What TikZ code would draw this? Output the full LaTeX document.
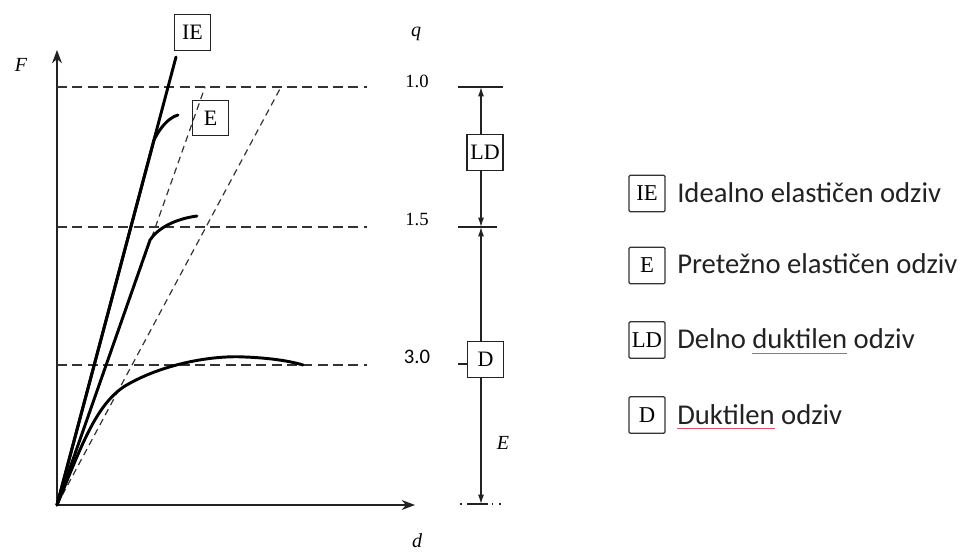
\documentclass[tikz,border=0pt]{standalone}
\usepackage{fontspec}
\setmainfont{Liberation Serif}
\newfontfamily\legfont{Carlito}
\usetikzlibrary{arrows.meta}
\definecolor{ink}{HTML}{222222}
\definecolor{dashc}{HTML}{333333}
\definecolor{spellred}{HTML}{E0506A}
\newcommand\spellul[1]{\setbox0\hbox{#1}\rlap{\raisebox{-3.4pt}{\textcolor{spellred}{\rule{\wd0}{0.75pt}}}}#1}
\begin{document}
\begin{tikzpicture}[x=0.75pt,y=-0.75pt,
  curve/.style={line width=2.2pt, black, line cap=round},
  axis/.style={line width=1.1pt, ink},
  level/.style={line width=1.4pt, dashc, dash pattern=on 7.5pt off 4pt},
  diag/.style={line width=0.9pt, dashc, dash pattern=on 5pt off 3.5pt},
  tag/.style={draw=ink, line width=0.9pt, inner sep=0pt, minimum width=27pt, minimum height=26.5pt, font=\fontsize{16.5}{16.5}\selectfont},
  legtag/.style={tag, draw=dashc, rounded corners=1pt, minimum width=27pt, minimum height=27.5pt, font=\fontsize{17}{17}\selectfont},
  lab/.style={font=\fontsize{15}{15}\selectfont\itshape, inner sep=0pt},
  num/.style={font=\fontsize{14}{14}\selectfont, inner sep=0pt},
  sansnum/.style={font=\legfont\fontsize{15.5}{15.5}\selectfont, inner sep=0pt},
  legtext/.style={font=\legfont\fontsize{21.5}{22}\selectfont, anchor=base west, inner sep=0pt, text=ink},
  scl/.style={line width=0.9pt, ink},
  tip/.style={-{Latex[length=7pt,width=4.5pt]}},
  axtip/.style={-{Stealth[length=10pt,width=7.5pt]}}
]
\useasboundingbox (0,0) rectangle (971,552);
% axes
\coordinate (O) at (57,505);
\coordinate (Ytop) at (57,50);
\coordinate (Xend) at (415,505);
\draw[axis,axtip] (O) -- (Ytop);
\draw[axis,axtip] (O) -- (Xend);
% level lines
\draw[level] (57,87) -- (367,87);
\draw[level] (57,227) -- (367,227);
\draw[level] (57,365) -- (367,365);
% diagonal reference lines
\coordinate (D1) at (205,87);
\coordinate (D2) at (281,87);
\draw[diag] (O) -- (D1);
\draw[diag] (O) -- (D2);
% response curves
\draw[curve] (O) -- (176,57);
\draw[curve] (O) -- (154,140) .. controls (160,128) and (168,118) .. (178,115);
\draw[curve] (O) -- (150,240) .. controls (158,228) and (175,219) .. (197,216);
\draw[curve] (O) .. controls (80,450) and (95,405) .. (125,386)
  .. controls (160,365) and (210,355) .. (245,357)
  .. controls (270,358) and (290,361) .. (303,365);
% tags on curves
\node[tag] (IEb) at (192.5,32.5) {IE};
\node[tag] (Eb) at (210.5,118) {E};
% labels
\node[lab] (F) at (21,65) {F};
\node[lab] (q) at (416,34) {q};
\node[lab, anchor=base] (d) at (417,547) {d};
\node[num] (n10) at (417,81) {1.0};
\node[num] (n15) at (417,219) {1.5};
\node[sansnum] (n30) at (417,357) {3.0};
% right scale
\coordinate (S1) at (481,87);
\coordinate (S15) at (481,227);
\coordinate (S0) at (481,504);
\draw[scl] (458,87) -- (503,87);
\draw[scl] (458,227) -- (497,227);
\node[tag] (LDb) at (485,152.5) {LD};
\node[tag] (Db) at (485.5,359.5) {D};
\draw[scl,tip] (S1 |- LDb.north) -- (S1);
\draw[scl,tip] (S1 |- LDb.south) -- (S15);
\draw[scl,tip] (S1 |- Db.north) -- (S15);
\draw[scl,tip] (S1 |- Db.south) -- (S0);
\draw[scl] (458,364) -- (468,364);
\draw[scl, dash pattern=on 1.2pt off 4pt on 16pt off 2.5pt on 1.2pt off 4.5pt on 1.2pt off 10pt] (460,504) -- (503,504);
\node[lab] (Elab) at (503,443) {E};
% legend
\node[legtag] (lIE) at (647,193.5) {IE};
\node[legtext] (tIE) at (677,203) {Idealno elastičen odziv};
\node[legtag] (lE) at (647,265.5) {E};
\node[legtext] (tE) at (677,274) {Pretežno elastičen odziv};
\node[legtag] (lLD) at (647,340) {LD};
\node[legtext] (tLD) at (677,349) {Delno \spellul{duktilen} odziv};
\node[legtag] (lD) at (647,415) {D};
\node[legtext] (tD) at (677,424) {\spellul{Duktilen} odziv};
\end{tikzpicture}
\end{document}
